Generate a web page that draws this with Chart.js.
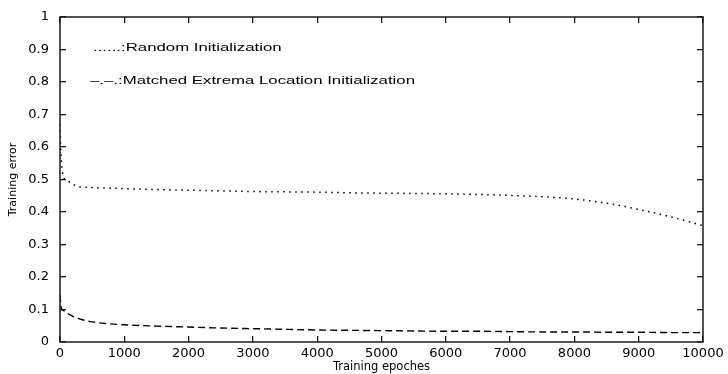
<!DOCTYPE html>
<html>
<head>
<meta charset="utf-8">
<script src="https://cdn.jsdelivr.net/npm/chart.js@4/dist/chart.umd.min.js"></script>
<style>
  html, body { margin: 0; padding: 0; background: #fff; }
  #wrap { width: 728px; height: 374px; }
</style>
</head>
<body>
<div id="wrap"><canvas id="c" width="728" height="374"></canvas></div>
<script>
// ---- Data ----
const epochs = [0, 10, 20, 40, 60, 80, 100, 150, 200, 300, 400, 500, 700, 1000, 1500, 2000, 2500, 3000, 3500, 4000, 4500, 5000, 5500, 6000, 6500, 7000, 7500, 8000, 8500, 9000, 9500, 10000];
const randomInit = [0.67, 0.60, 0.56, 0.52, 0.505, 0.50, 0.498, 0.492, 0.485, 0.478, 0.476, 0.475, 0.474, 0.472, 0.469, 0.467, 0.465, 0.463, 0.462, 0.461, 0.459, 0.458, 0.457, 0.456, 0.454, 0.451, 0.447, 0.440, 0.427, 0.408, 0.385, 0.358];
const matchedInit = [0.145, 0.12, 0.105, 0.099, 0.096, 0.093, 0.090, 0.084, 0.079, 0.071, 0.066, 0.062, 0.057, 0.053, 0.049, 0.046, 0.043, 0.041, 0.039, 0.037, 0.036, 0.035, 0.034, 0.033, 0.033, 0.032, 0.031, 0.031, 0.030, 0.030, 0.029, 0.029];
const xTickValues = [0, 1000, 2000, 3000, 4000, 5000, 6000, 7000, 8000, 9000, 10000];
const yTickValues = [0, 0.1, 0.2, 0.3, 0.4, 0.5, 0.6, 0.7, 0.8, 0.9, 1];
const legendTexts = ["......:Random Initialization", "\u2013.\u2013.:Matched Extrema Location Initialization"];
const xTitle = "Training epoches";
const yTitle = "Training error";

const toPts = (xs, ys) => xs.map((x, i) => ({ x: x, y: ys[i] }));

const framePlugin = {
  id: 'frame',
  afterDraw(chart) {
    const ctx = chart.ctx;
    const ca = chart.chartArea;
    const ys = chart.scales.y;
    ctx.save();
    ctx.setLineDash([]);
    ctx.strokeStyle = '#1a1a1a';
    ctx.lineWidth = 1.5;
    ctx.strokeRect(ca.left, ca.top, ca.right - ca.left, ca.bottom - ca.top);
    // in-plot legend text
    ctx.fillStyle = '#000';
    ctx.font = '10.5px "Liberation Sans", Arial, sans-serif';
    ctx.textBaseline = 'alphabetic';
    const entries = [
      { text: legendTexts[0], px: ca.left + 33, py: ys.getPixelForValue(0.9) + 1 },
      { text: legendTexts[1], px: ca.left + 30, py: ys.getPixelForValue(0.8) + 1.5 }
    ];
    entries.forEach(e => {
      ctx.save();
      ctx.translate(e.px, e.py);
      ctx.scale(1.6, 1);
      ctx.fillText(e.text, 0, 0);
      ctx.restore();
    });
    ctx.restore();
  }
};

const tickGrid = {
  display: true,
  drawOnChartArea: false,
  drawTicks: true,
  tickLength: -6,
  tickWidth: 1.3,
  tickColor: '#1a1a1a',
  color: '#1a1a1a',
  lineWidth: 1.3
};

const zeroPad = s => { s.paddingLeft = 0; s.paddingRight = 0; s.paddingTop = 0; s.paddingBottom = 0; };

new Chart(document.getElementById('c'), {
  type: 'line',
  data: {
    datasets: [
      {
        label: 'Random Initialization',
        data: toPts(epochs, randomInit),
        borderColor: '#000',
        borderWidth: 1.5,
        borderDash: [1.5, 4.5],
        pointRadius: 0,
        cubicInterpolationMode: 'monotone',
        fill: false,
        xAxisID: 'x', yAxisID: 'y'
      },
      {
        label: 'Matched Extrema Location Initialization',
        data: toPts(epochs, matchedInit),
        borderColor: '#000',
        borderWidth: 1.4,
        borderDash: [7, 4],
        pointRadius: 0,
        cubicInterpolationMode: 'monotone',
        fill: false,
        xAxisID: 'x', yAxisID: 'y'
      }
    ]
  },
  options: {
    responsive: false,
    devicePixelRatio: 1,
    animation: false,
    layout: { padding: { top: 17, right: 25, left: 0, bottom: 0 } },
    plugins: { legend: { display: false }, tooltip: { enabled: false } },
    scales: {
      x: {
        type: 'linear',
        position: 'bottom',
        min: 0, max: 10000,
        grid: tickGrid,
        border: { display: false },
        afterBuildTicks: s => { s.ticks = xTickValues.map(v => ({ value: v })); },
        ticks: {
          color: '#000',
          padding: 10,
          maxRotation: 0,
          autoSkip: false,
          font: { family: 'DejaVu Sans', size: 13 },
          callback: v => String(v)
        },
        title: {
          display: true, text: xTitle, color: '#000',
          font: { family: 'DejaVu Sans', size: 11.5 },
          padding: { top: 0, bottom: 0 }
        },
        afterFit: s => { s.height = 32; zeroPad(s); }
      },
      x2: {
        type: 'linear',
        position: 'top',
        min: 0, max: 10000,
        grid: tickGrid,
        border: { display: false },
        afterBuildTicks: s => { s.ticks = xTickValues.map(v => ({ value: v })); },
        ticks: { display: false },
        afterFit: s => { s.height = 0; zeroPad(s); }
      },
      y: {
        type: 'linear',
        position: 'left',
        min: 0, max: 1,
        grid: tickGrid,
        border: { display: false },
        afterBuildTicks: s => { s.ticks = yTickValues.map(v => ({ value: v })); },
        ticks: {
          color: '#000',
          padding: 17,
          autoSkip: false,
          font: { family: 'DejaVu Sans', size: 13 },
          callback: v => String(Math.round(v * 10) / 10)
        },
        title: {
          display: true, text: yTitle, color: '#000',
          font: { family: 'DejaVu Sans', size: 11 },
          padding: { top: 7, bottom: 0 }
        },
        afterFit: s => { s.width = 60; zeroPad(s); }
      },
      y2: {
        type: 'linear',
        position: 'right',
        min: 0, max: 1,
        grid: tickGrid,
        border: { display: false },
        afterBuildTicks: s => { s.ticks = yTickValues.map(v => ({ value: v })); },
        ticks: { display: false },
        afterFit: s => { s.width = 0; zeroPad(s); }
      }
    }
  },
  plugins: [framePlugin]
});
</script>
</body>
</html>
